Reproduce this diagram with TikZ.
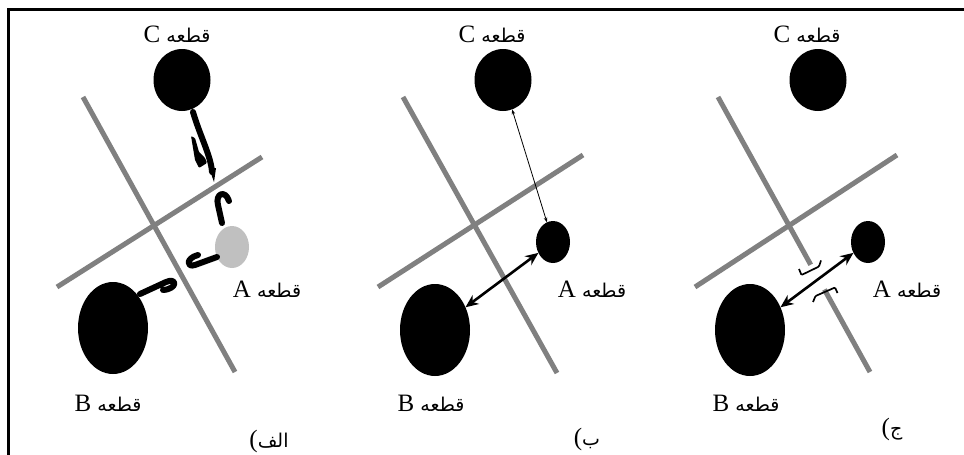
\documentclass[tikz,border=0pt]{standalone}
\usepackage{fontspec}
\setmainfont{Liberation Serif}
\newfontfamily\arabicfont[Script=Arabic]{DejaVu Sans}
\TeXXeTstate=1
\usetikzlibrary{shapes.geometric,arrows.meta,calc}
\newcommand{\arw}[1]{{\arabicfont\fontsize{19}{22}\selectfont\beginR #1\endR}}
\definecolor{wallgray}{RGB}{128,128,128}
\definecolor{agray}{RGB}{192,192,192}
\begin{document}
\begin{tikzpicture}[x=1pt,y=-1pt,
  blob/.style={ellipse, fill=black, inner sep=0pt, outer sep=0pt},
  bigblob/.style={blob, minimum width=70pt, minimum height=92pt},
  midblob/.style={blob, minimum width=57pt, minimum height=62pt},
  smallblob/.style={blob, minimum width=34pt, minimum height=42pt},
  wall/.style={line width=5pt, draw=wallgray},
  lab/.style={font=\fontsize{25}{28}\selectfont, anchor=base, inner sep=0pt},
  hook/.style={line width=6pt, line cap=round, line join=round},
  thickarr/.style={line width=2.6pt, {Stealth[length=13pt,width=11pt]}-{Stealth[length=13pt,width=11pt]}},
  thinarr/.style={line width=0.8pt, {Stealth[length=5pt,width=3.5pt]}-{Stealth[length=5pt,width=3.5pt]}},
  bracket/.style={line width=1.7pt, rounded corners=1pt}
]
\useasboundingbox (0,0) rectangle (964,455);
\fill[white] (0,0) rectangle (964,455);
% frame
\coordinate (f1) at (8.7,455);
\coordinate (f2) at (8.7,9.7);
\coordinate (f3) at (964,9.7);
\draw[line width=2.6pt] (f1) -- (f2) -- (f3);

% ---------- panel a ----------
\coordinate (aw1s) at (83,97);  \coordinate (aw1e) at (235,372);
\coordinate (aw2s) at (57,287); \coordinate (aw2e) at (262,157);
\draw[wall] (aw1s) -- (aw1e);
\draw[wall] (aw2s) -- (aw2e);
\node[midblob] (aC) at (182,80) {};
\node[smallblob, fill=agray] (aA) at (232,247) {};
\node[bigblob] (aB) at (113,328) {};
% hooked arrows
\draw[hook] (193,112) .. controls (200,136) and (211,156) .. (212,172);
\fill (209,168) -- (216,168) -- (214,182) -- cycle;
\fill[rounded corners=1pt] (191,136) -- (195,138) -- (199,152) -- (205,158) -- (207,163) -- (199,168) -- (195,160) -- cycle;
\draw[hook] (222,223) -- (218,205) .. controls (215,194) and (225,189) .. (229,201);
\draw[hook] (217,257) -- (195,265) .. controls (186,268) and (186,258) .. (198,255);
\draw[hook] (140,294) -- (166,282) .. controls (177,277) and (178,289) .. (163,290);
\node[lab] (aClab) at (177,42) {C \arw{قطعه}};
\node[lab] (aAlab) at (267,297) {A \arw{قطعه}};
\node[lab] (aBlab) at (108,411) {B \arw{قطعه}};
\node[lab] (apan) at (269,447) {(\arw{الف}};

% ---------- panel b ----------
\coordinate (bw1s) at (403,97);  \coordinate (bw1e) at (557,373);
\coordinate (bw2s) at (378,287); \coordinate (bw2e) at (583,155);
\draw[wall] (bw1s) -- (bw1e);
\draw[wall] (bw2s) -- (bw2e);
\node[midblob] (bC) at (503,80) {};
\node[smallblob] (bA) at (553,242) {};
\node[bigblob] (bB) at (435,330) {};
\draw[thinarr] (bC) -- (bA);
\draw[thickarr] (bB) -- (bA);
\node[lab] (bClab) at (492,42) {C \arw{قطعه}};
\node[lab] (bAlab) at (592,297) {A \arw{قطعه}};
\node[lab] (bBlab) at (431,411) {B \arw{قطعه}};
\node[lab] (bpan) at (587,445) {(\arw{ب}};

% ---------- panel c ----------
\coordinate (cw1s) at (718,97);  \coordinate (cw1e) at (870,372);
\coordinate (cw2s) at (695,287); \coordinate (cw2e) at (897,155);
\draw[wall] (cw1s) -- ($(cw1s)!0.61!(cw1e)$);
\draw[wall] ($(cw1s)!0.70!(cw1e)$) -- (cw1e);
\draw[wall] (cw2s) -- (cw2e);
\node[midblob] (cC) at (818,80) {};
\node[smallblob] (cA) at (868,242) {};
\node[bigblob] (cB) at (750,330) {};
\draw[thickarr] (cB) -- (cA);
\draw[bracket] (799,269) -- (801.5,275) -- (819,266.5) -- (821,260.5);
\draw[bracket] (813,302) -- (815.5,296) -- (835,287.5) -- (837.5,293);
\node[lab] (cClab) at (807,42) {C \arw{قطعه}};
\node[lab] (cAlab) at (907,297) {A \arw{قطعه}};
\node[lab] (cBlab) at (746,411) {B \arw{قطعه}};
\node[lab] (cpan) at (892,435) {(\arw{ج}};
\end{tikzpicture}
\end{document}
